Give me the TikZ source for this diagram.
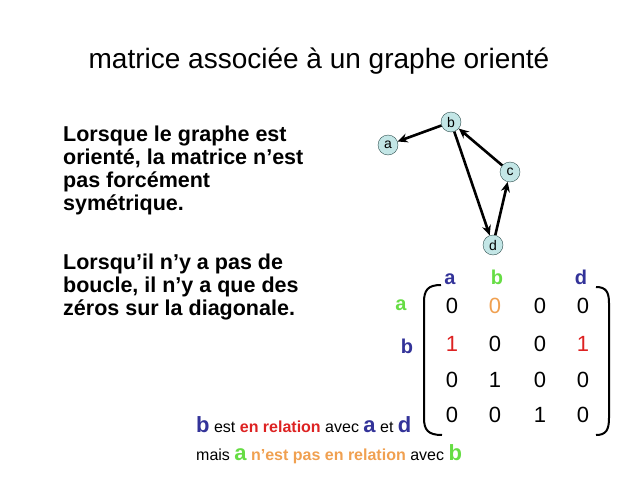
\documentclass[tikz,border=0pt]{standalone}
\usepackage{fontspec}
\setmainfont{Liberation Sans}
\usetikzlibrary{arrows.meta}
\definecolor{lettreblue}{HTML}{333399}
\definecolor{lettregreen}{HTML}{66DD44}
\definecolor{relred}{HTML}{DD2222}
\definecolor{relorange}{HTML}{F0A050}
\definecolor{sommetfill}{HTML}{C3E6E6}
\definecolor{sommetdraw}{HTML}{2F4F4F}
\begin{document}
\begin{tikzpicture}[x=1pt,y=-1pt,
    sommet/.style={circle,draw=sommetdraw,fill=sommetfill,minimum size=20pt,inner sep=0pt,font=\fontsize{14}{14}\selectfont},
    arc/.style={line width=2.6pt,-{Stealth[length=10pt,width=9pt]}},
    coef/.style={anchor=base,inner sep=0pt,font=\fontsize{22}{22}\selectfont},
    lettre/.style={anchor=base,inner sep=0pt,font=\fontsize{20}{20}\selectfont\bfseries},
    parag/.style={anchor=base west,align=left,inner sep=0pt,font=\fontsize{21.5}{23}\selectfont\bfseries}]
            \useasboundingbox (0,0) rectangle (638,479);
            % Title
            \node (titre) [anchor=base,inner sep=0pt,font=\fontsize{28}{28}\selectfont] at (319,68) {matrice associée à un graphe orienté};
            % Text (base = last line)
            \node (texte1) [parag] at (63,210) {Lorsque le graphe est\\orienté, la matrice n’est\\pas forcément\\symétrique.};
            \node (texte2) [parag] at (63,315) {Lorsqu’il n’y a pas de\\boucle, il n’y a que des\\zéros sur la diagonale.};
            % Graph
            \node (a) [sommet] at (388,145) {a};
            \node (b) [sommet] at (451,122) {b};
            \node (c) [sommet] at (510,172) {c};
            \node (d) [sommet] at (493,245) {d};
            \draw[arc] (b) -- (a);
            \draw[arc] (b) -- (d);
            \draw[arc] (c) -- (b);
            \draw[arc] (d) -- (c);
            % Labels
            \node (colA) [lettre,lettreblue] at (450,284) {a};
            \node (colB) [lettre,lettregreen] at (497,284) {b};
            \node (colD) [lettre,lettreblue] at (581,284) {d};
            \node (rowA) [lettre,lettregreen] at (401,310) {a};
            \node (rowB) [lettre,lettreblue] at (407,353) {b};
            % Matrix
            \node (m11) [coef] at (452,313) {0};
            \node (m12) [coef,relorange] at (495,313) {0};
            \node (m13) [coef] at (540,313) {0};
            \node (m14) [coef] at (583,313) {0};
            \node (m21) [coef,relred] at (452,351) {1};
            \node (m22) [coef] at (495,351) {0};
            \node (m23) [coef] at (540,351) {0};
            \node (m24) [coef,relred] at (583,351) {1};
            \node (m31) [coef] at (452,387) {0};
            \node (m32) [coef] at (495,387) {1};
            \node (m33) [coef] at (540,387) {0};
            \node (m34) [coef] at (583,387) {0};
            \node (m41) [coef] at (452,422) {0};
            \node (m42) [coef] at (495,422) {0};
            \node (m43) [coef] at (540,422) {1};
            \node (m44) [coef] at (583,422) {0};
            % Brackets
            \draw[line width=2pt] (441,285) .. controls (428,285) and (424,290) .. (424,302) -- (424,418) .. controls (424,430) and (428,435) .. (442,435);
            \draw[line width=2pt] (596,287) .. controls (606,287) and (609,292) .. (609,303) -- (609,418) .. controls (609,430) and (606,435) .. (596,435);
            % Bottom text
            \node (phrase1) [anchor=base west,inner sep=0pt,font=\fontsize{16}{16}\selectfont] at (196,432)
                {{\fontsize{22}{22}\selectfont\bfseries\color{lettreblue}b} est {\bfseries\color{relred}en relation} avec {\fontsize{22}{22}\selectfont\bfseries\color{lettreblue}a} et {\fontsize{22}{22}\selectfont\bfseries\color{lettreblue}d}};
            \node (phrase2) [anchor=base west,inner sep=0pt,font=\fontsize{16}{16}\selectfont] at (196,460)
                {mais {\fontsize{22}{22}\selectfont\bfseries\color{lettregreen}a} {\bfseries\color{relorange}n’est pas en relation} avec {\fontsize{22}{22}\selectfont\bfseries\color{lettregreen}b}};
\end{tikzpicture}
\end{document}
